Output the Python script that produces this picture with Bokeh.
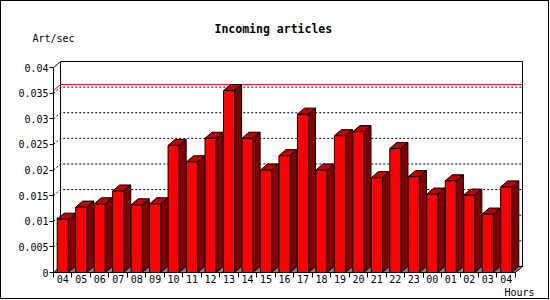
from bokeh.plotting import figure
from bokeh.models import FixedTicker, Range1d, Title, LinearAxis
from bokeh.embed import file_html
from bokeh.resources import INLINE

# ---- data ----
hours = ["04", "05", "06", "07", "08", "09", "10", "11", "12", "13", "14", "15",
         "16", "17", "18", "19", "20", "21", "22", "23", "00", "01", "02", "03", "04"]
rates = [0.0104, 0.01275, 0.0134, 0.0159, 0.0132, 0.0134, 0.0248, 0.0216, 0.0262,
         0.0355, 0.0262, 0.0200, 0.0228, 0.0309, 0.0200, 0.0267, 0.0275, 0.0185,
         0.0242, 0.0187, 0.0153, 0.0179, 0.0151, 0.0114, 0.0167]
y_ticks = [0, 0.005, 0.01, 0.015, 0.02, 0.025, 0.03, 0.035, 0.04]
y_tick_labels = ["0", "0.005", "0.01", "0.015", "0.02", "0.025", "0.03", "0.035", "0.04"]
grid_values = [0.005, 0.01, 0.015, 0.02, 0.025, 0.03, 0.035]
title_text = "Incoming articles"
y_unit_text = "Art/sec"
x_unit_text = "Hours"

# ---- geometry (canvas pixels) ----
W, H = 547, 297
FL, FR, FT, FB = 52, 520, 59, 269       # frame edges
PXX = 18.4                              # px per category
PXY = 5075.0                            # px per unit value
DX = 7 / PXX                            # 3D depth in data units
DY = 6 / PXY
HW = 0.3                                # half bar width
n = len(hours)
x0, x1 = -0.5, n - 0.5
ymax = y_ticks[-1]


def px_x(px):
    return x0 + (px - FL) / PXX


def px_y(py):
    return (FB - py) / PXY


p = figure(width=W, height=H, title=None,
           x_range=Range1d(x0, px_x(FR)), y_range=Range1d(0, px_y(FT)),
           min_border_left=FL, min_border_right=W - FR,
           min_border_top=FT, min_border_bottom=H - FB,
           output_backend="svg", toolbar_location=None,
           background_fill_color="white", border_fill_color="white",
           outline_line_color=None,
           styles={"border": "1px solid black", "box-sizing": "content-box"})
p.xgrid.visible = False
p.ygrid.visible = False

FONT = "DejaVu Sans Mono"

# x axis
xa = p.xaxis[0]
xa.ticker = FixedTicker(ticks=list(range(n)), minor_ticks=[i - 0.5 for i in range(n + 1)])
xa.major_label_overrides = {i: h for i, h in enumerate(hours)}
xa.major_tick_out = 0
xa.major_tick_in = 0
xa.minor_tick_out = 5
xa.minor_tick_in = 0
xa.minor_tick_line_color = "black"
xa.axis_line_color = "black"
xa.bounds = (x0, x1)
xa.major_label_standoff = -3
xa.major_label_text_font = FONT
xa.major_label_text_font_size = "10px"
xa.major_label_text_color = "black"

# y axis
ya = p.yaxis[0]
ya.ticker = FixedTicker(ticks=y_ticks)
ya.major_label_overrides = {t: l for t, l in zip(y_ticks, y_tick_labels)}
ya.major_tick_out = 4
ya.major_tick_in = 0
ya.minor_tick_out = 0
ya.minor_tick_in = 0
ya.major_tick_line_color = "black"
ya.axis_line_color = "black"
ya.bounds = (0, ymax)
ya.major_label_standoff = 1
ya.major_label_text_font = FONT
ya.major_label_text_font_size = "10px"
ya.major_label_text_color = "black"

# unit label of the value axis, shown above the axis top (label-only axis)
ua = LinearAxis(ticker=FixedTicker(ticks=[x0]),
                major_label_overrides={x0: y_unit_text},
                axis_line_color=None, major_tick_line_color=None, minor_tick_line_color=None,
                major_tick_out=0, major_tick_in=0, minor_tick_out=0, minor_tick_in=0,
                major_label_standoff=17, major_label_text_font=FONT,
                major_label_text_font_size="10px", major_label_text_color="black")
p.add_layout(ua, "above")

# back wall
p.line([x0 + DX, x1 + DX, x1 + DX, x0 + DX, x0 + DX],
       [DY, DY, ymax + DY, ymax + DY, DY], line_color="black", line_width=1)
# side wall top edge
p.line([x0, x0 + DX], [ymax, ymax + DY], line_color="black", line_width=1)

# dotted grid lines (side wall + back wall)
p.multi_line([[x0, x0 + DX, x1 + DX] for _ in grid_values],
             [[g, g + DY, g + DY] for g in grid_values],
             line_color="black", line_width=1, line_dash="2 2")

# max line
m = max(rates)
p.line([x0, x0 + DX, x1 + DX], [m, m + DY, m + DY], line_color="#FF0000", line_width=1)

# floor
p.patch([x0, x1, x1 + DX, x0 + DX], [0, 0, DY, DY],
        fill_color="#808080", line_color="black", line_width=1)

idx = list(range(n))
# side faces
p.patches([[i + HW, i + HW + DX, i + HW + DX, i + HW] for i in idx],
          [[0, DY, v + DY, v] for v in rates],
          fill_color="#800000", line_color="black", line_width=1, line_join="miter")
# top faces
p.patches([[i - HW, i - HW + DX, i + HW + DX, i + HW] for i in idx],
          [[v, v + DY, v + DY, v] for v in rates],
          fill_color="#C00000", line_color="black", line_width=1, line_join="miter")
# front faces
p.quad(left=[i - HW for i in idx], right=[i + HW for i in idx],
       bottom=0, top=rates,
       fill_color="#FF0000", line_color="black", line_width=1, line_join="miter")

# texts outside the frame (titles live in side panels)
t_main = Title(text=title_text, align="left", offset=161, standoff=-12,
               text_font=FONT, text_font_size="11.5px", text_font_style="bold",
               text_color="black")
p.add_layout(t_main, "above")
t_unit_x = Title(text=x_unit_text, align="left", offset=503 - FL, standoff=-1,
                 text_font=FONT, text_font_size="10px", text_font_style="normal",
                 text_color="black")
p.add_layout(t_unit_x, "below")

open("out.html", "w").write(file_html(p, INLINE))
